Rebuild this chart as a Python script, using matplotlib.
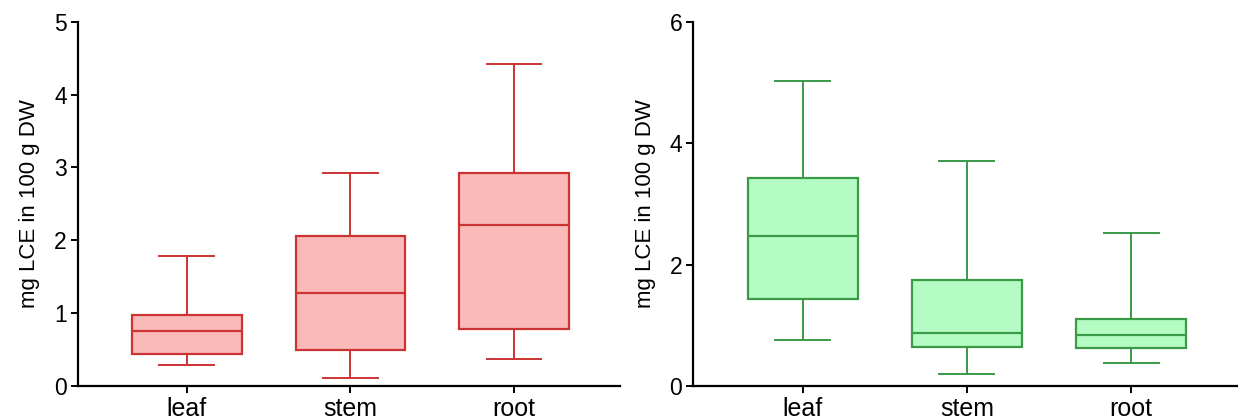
import matplotlib
matplotlib.use("Agg")
import matplotlib.pyplot as plt

plt.rcParams['font.family'] = ['Liberation Sans', 'DejaVu Sans']

categories = ['leaf', 'stem', 'root']

# left panel (red)
red_low = [0.29, 0.11, 0.37]
red_q1 = [0.44, 0.49, 0.78]
red_med = [0.75, 1.27, 2.21]
red_q3 = [0.97, 2.06, 2.92]
red_high = [1.78, 2.93, 4.42]

# right panel (green)
green_low = [0.76, 0.20, 0.38]
green_q1 = [1.43, 0.64, 0.63]
green_med = [2.47, 0.87, 0.84]
green_q3 = [3.43, 1.74, 1.10]
green_high = [5.02, 3.70, 2.52]


def make_stats(low, q1, med, q3, high):
    stats = []
    for i in range(len(categories)):
        stats.append({'label': categories[i], 'whislo': low[i], 'q1': q1[i],
                      'med': med[i], 'q3': q3[i], 'whishi': high[i], 'fliers': []})
    return stats


fig = plt.figure(figsize=(12.38, 4.19), dpi=100)
ax1 = fig.add_axes([0.063, 0.079, 0.438, 0.869])
ax2 = fig.add_axes([0.560, 0.079, 0.440, 0.869])

panels = [
    (ax1, make_stats(red_low, red_q1, red_med, red_q3, red_high), '#cc3333', '#fbbaba', 5, [0, 1, 2, 3, 4, 5]),
    (ax2, make_stats(green_low, green_q1, green_med, green_q3, green_high), '#3a9a48', '#b4fcc4', 6, [0, 2, 4, 6]),
]

for ax, stats, edge, fill, ymax, yticks in panels:
    ax.bxp(stats, positions=[1, 2, 3], widths=0.67, showfliers=False, patch_artist=True,
           boxprops=dict(facecolor=fill, edgecolor=edge, linewidth=1.6),
           medianprops=dict(color=edge, linewidth=1.6),
           whiskerprops=dict(color=edge, linewidth=1.4),
           capprops=dict(color=edge, linewidth=1.4))
    ax.set_xlim(0.335, 3.65)
    ax.set_ylim(0, ymax)
    ax.set_yticks(yticks)
    ax.set_xticks([1, 2, 3])
    ax.set_xticklabels(categories)
    ax.spines['top'].set_visible(False)
    ax.spines['right'].set_visible(False)
    ax.spines['left'].set_linewidth(1.6)
    ax.spines['bottom'].set_linewidth(1.6)
    ax.tick_params(axis='both', direction='out', length=5, width=1.4)
    ax.tick_params(axis='y', labelsize=16.5, pad=3)
    ax.tick_params(axis='x', pad=3, labelsize=18)
    ax.set_ylabel('mg LCE in 100 g DW', fontsize=16, labelpad=10)

fig.savefig('out.png', dpi=100)
